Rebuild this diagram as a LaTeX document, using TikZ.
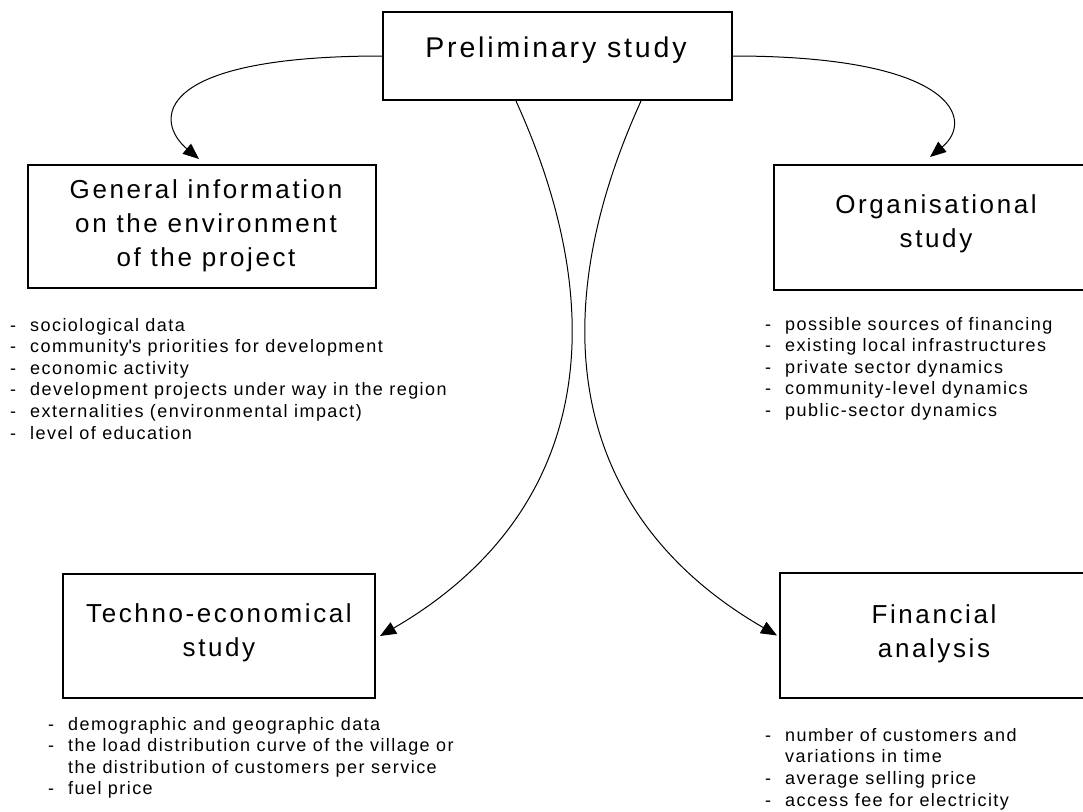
\documentclass[tikz,border=0pt]{standalone}
\usepackage{fontspec}
\setmainfont{Liberation Sans}
\newfontfamily\listfont[LetterSpace=8]{Liberation Sans}
\newfontfamily\titlefont[LetterSpace=10]{Liberation Sans}
\usetikzlibrary{arrows.meta}
\newcommand\li[1]{\makebox[20pt][l]{-}#1}
\newcommand\lc[1]{\hspace*{20pt}#1}
\tikzset{
  box/.style={draw, line width=2pt, rectangle, inner sep=0pt},
  ttl/.style={font=\titlefont\fontsize{26}{34}\selectfont, align=center, inner sep=0pt, anchor=base},
  lst/.style={font=\listfont\fontsize{18}{21.6}\selectfont, align=left, inner sep=0pt, anchor=base west},
  conn/.style={line width=1pt, -{Triangle[length=16pt,width=13pt]}},
}
\begin{document}
\begin{tikzpicture}[x=1pt,y=-1pt]
\useasboundingbox[fill=white] (0,0) rectangle (1083,811);
% boxes
\node[box, minimum width=349pt, minimum height=88pt] (pre) at (557.5,56) {};
\node[box, minimum width=348pt, minimum height=123pt] (gen) at (202,226.5) {};
\node[box, minimum width=316pt, minimum height=125pt] (org) at (932,227.5) {};
\node[box, minimum width=312pt, minimum height=124pt] (tech) at (219,636) {};
\node[box, minimum width=310pt, minimum height=125pt] (fin) at (935,635.5) {};
% titles (base anchor = baseline of last line)
\node[ttl, font=\titlefont\fontsize{28.5}{34}\selectfont] (pret) at (556,57) {Preliminary study};
\node[ttl] (gent) at (206,266) {General information\\on the environment\\of the project};
\node[ttl] (orgt) at (936,247) {Organisational\\study};
\node[ttl] (techt) at (219,656) {Techno-economical\\study};
\node[ttl] (fint) at (934,657) {Financial\\analysis};
% lists (base anchor = baseline of last line)
\node[lst] (genl) at (10,439) {\li{sociological data}\\\li{community\textquotesingle s priorities for development}\\\li{economic activity}\\\li{development projects under way in the region}\\\li{externalities (environmental impact)}\\\li{level of education}};
\node[lst] (orgl) at (765,416.4) {\li{possible sources of financing}\\\li{existing local infrastructures}\\\li{private sector dynamics}\\\li{community-level dynamics}\\\li{public-sector dynamics}};
\node[lst] (techl) at (48,794.8) {\li{demographic and geographic data}\\\li{the load distribution curve of the village or}\\\lc{the distribution of customers per service}\\\li{fuel price}};
\node[lst] (finl) at (765,806) {\li{number of customers and}\\\lc{variations in time}\\\li{average selling price}\\\li{access fee for electricity}};
% connectors
\draw[conn] (pre.west) .. controls (150,56) and (155,122) .. ([xshift=-3pt,yshift=5pt]gen.north);
\draw[conn] (pre.east) .. controls (955,56) and (975,120) .. ([xshift=-2pt,yshift=7pt]org.north);
\draw[conn] ([xshift=-41.5pt]pre.south) .. controls (620,330) and (580,520) .. ([xshift=4pt]tech.east);
\draw[conn] ([xshift=83.5pt]pre.south) .. controls (537,330) and (577,520) .. ([xshift=-2pt]fin.west);
\end{tikzpicture}
\end{document}
